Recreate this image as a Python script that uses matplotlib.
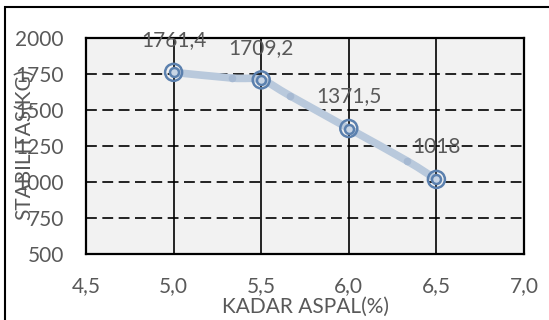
import numpy as np
import matplotlib
matplotlib.use('Agg')
import matplotlib.pyplot as plt
from matplotlib.path import Path
from matplotlib.patches import PathPatch, Rectangle

x_vals = [5.0, 5.5, 6.0, 6.5]
y_vals = [1761.4, 1709.2, 1371.5, 1018]
point_labels = ['1761,4', '1709,2', '1371,5', '1018']
mid_x = [5.333, 5.667, 6.333]
mid_y = [1722, 1597, 1146]
x_ticks = [4.5, 5.0, 5.5, 6.0, 6.5, 7.0]
x_ticklabels = ['4,5', '5,0', '5,5', '6,0', '6,5', '7,0']
y_ticks = [500, 750, 1000, 1250, 1500, 1750, 2000]
x_title = 'KADAR ASPAL(%)'
y_title = 'STABILITAS(KG)'

plt.rcParams['font.family'] = ['Lato', 'DejaVu Sans']
TXT = '#595959'
FS = 15
W, H = 549, 320
fig = plt.figure(figsize=(W / 100, H / 100), dpi=100)
fig.patch.set_facecolor('white')
ax = fig.add_axes([86 / W, 1 - 254 / H, (524 - 86) / W, (254 - 38) / H])
ax.set_facecolor('#f2f2f2')

# outer frame (left/top visible)
fig.patches.append(Rectangle((5 / W, -0.05), 1.0, 1 - 7 / H + 0.05,
                             transform=fig.transFigure, fill=False,
                             edgecolor='black', lw=1.5, zorder=0))

ax.set_xlim(4.5, 7.0)
ax.set_ylim(500, 2000)
ax.set_xticks(x_ticks)
ax.set_xticklabels(x_ticklabels)
ax.set_yticks(y_ticks)
ax.set_yticklabels([str(v) for v in y_ticks])
ax.tick_params(length=0, pad=16, labelsize=FS, labelcolor=TXT)

ax.xaxis.grid(True, color='black', lw=1.2, linestyle='-')
ax.yaxis.grid(True, color='black', lw=1.2, linestyle=(0, (6.5, 3.3)))
ax.set_axisbelow(True)
for s in ax.spines.values():
    s.set_color('black')
    s.set_linewidth(1.6)

# smoothed line through all points
allx = x_vals + mid_x
ally = y_vals + mid_y
order = np.argsort(allx)
pts = np.column_stack([np.array(allx)[order], np.array(ally)[order]])
n = len(pts)
verts = [pts[0]]
codes = [Path.MOVETO]
for i in range(n - 1):
    p0 = pts[i - 1] if i > 0 else pts[i]
    p1 = pts[i]
    p2 = pts[i + 1]
    p3 = pts[i + 2] if i + 2 < n else pts[i + 1]
    c1 = p1 + (p2 - p0) / 6
    c2 = p2 - (p3 - p1) / 6
    verts += [c1, c2, p2]
    codes += [Path.CURVE4] * 3
ax.add_patch(PathPatch(Path(verts, codes), facecolor='none',
                       edgecolor='#b9c9dc', lw=5.5, capstyle='round',
                       joinstyle='round', zorder=3))
ax.scatter(mid_x, mid_y, s=30, color='#a6b9d2', zorder=4, linewidths=0)

# double-ring markers
ax.scatter(x_vals, y_vals, s=150, facecolors='none', edgecolors='#5b80ae',
           linewidths=1.8, zorder=5)
ax.scatter(x_vals, y_vals, s=42, facecolors='#c8d5e5', edgecolors='#5b80ae',
           linewidths=1.8, zorder=6)

for x, y, lab in zip(x_vals, y_vals, point_labels):
    ax.annotate(lab, (x, y), xytext=(0, 23), textcoords='offset points',
                ha='center', va='center', fontsize=FS, color=TXT, zorder=7)

fig.text(305 / W, 1 - 307 / H, x_title, ha='center', va='center',
         fontsize=FS, color=TXT)
fig.text(24 / W, 1 - 144 / H, y_title, ha='center', va='center',
         rotation=90, fontsize=FS, color=TXT)

fig.savefig('out.png', dpi=100)
